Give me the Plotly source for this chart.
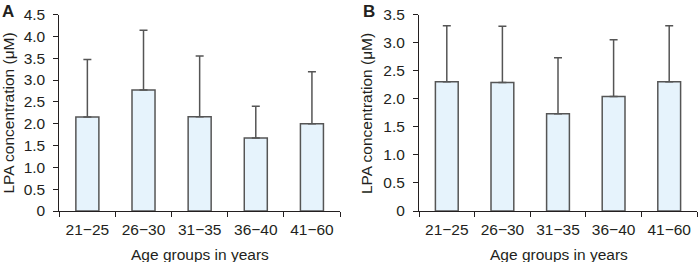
import plotly.graph_objects as go

categories = ["21−25", "26−30", "31−35", "36−40", "41−60"]
means_a = [2.15, 2.77, 2.16, 1.67, 2.00]
upper_a = [3.47, 4.14, 3.55, 2.40, 3.19]
means_b = [2.30, 2.29, 1.73, 2.04, 2.30]
upper_b = [3.30, 3.29, 2.73, 3.05, 3.30]
yticks_a = [0, 0.5, 1.0, 1.5, 2.0, 2.5, 3.0, 3.5, 4.0, 4.5]
yticks_b = [0, 0.5, 1.0, 1.5, 2.0, 2.5, 3.0, 3.5]
x_title = "Age groups in years"
y_title = "LPA concentration (μM)"

FONT = "Liberation Sans, Arial, sans-serif"
TXT = "#231f20"
EDGE = "#555555"
FILL = "#e6f3fc"
FS = 15.5

def lbl(v):
    return "0" if v == 0 else f"{v:.1f}"

fig = go.Figure()
for means, upper, xa, ya in [(means_a, upper_a, "x", "y"), (means_b, upper_b, "x2", "y2")]:
    fig.add_trace(go.Bar(
        x=categories, y=means, xaxis=xa, yaxis=ya,
        marker=dict(color=FILL, line=dict(color=EDGE, width=1.5)),
        error_y=dict(type="data", symmetric=False,
                     array=[u - m for u, m in zip(upper, means)],
                     arrayminus=[0] * len(means),
                     color=EDGE, thickness=1.5, width=4),
        showlegend=False,
    ))

H = 262.0
W = 698.0
ydom = [1 - 211 / H, 1 - 14.5 / H]
common_x = dict(type="category", showline=True, linecolor=TXT, linewidth=1,
                ticks="outside", tickson="boundaries", ticklen=5, tickcolor=TXT,
                showgrid=False, automargin=False, ticklabelstandoff=4,
                ticklabeloverflow="allow",
                tickfont=dict(family=FONT, size=FS, color=TXT))
common_y = dict(showline=True, linecolor=TXT, linewidth=1, ticks="outside", ticklen=5,
                tickcolor=TXT, showgrid=False, zeroline=False, automargin=False,
                ticklabelstandoff=5,
                tickfont=dict(family=FONT, size=FS, color=TXT))

tfont = dict(family=FONT, size=FS, color=TXT)
fig.update_layout(
    width=698, height=262,
    margin=dict(l=0, r=0, t=0, b=0, pad=0),
    paper_bgcolor="white", plot_bgcolor="white",
    bargap=0.59,
    xaxis=dict(domain=[59.3 / W, 340 / W], anchor="y", **common_x),
    yaxis=dict(domain=ydom, anchor="x", range=[0, 4.5], tickvals=yticks_a,
               ticktext=[lbl(v) for v in yticks_a], **common_y),
    xaxis2=dict(domain=[419 / W, 697 / W], anchor="y2", **common_x),
    yaxis2=dict(domain=ydom, anchor="x2", range=[0, 3.5], tickvals=yticks_b,
                ticktext=[lbl(v) for v in yticks_b], **common_y),
    annotations=[
        dict(text="<b>A</b>", x=0, y=1, xref="paper", yref="paper", xanchor="left", yanchor="top",
             showarrow=False, font=dict(family=FONT, size=17, color=TXT), xshift=0, yshift=0),
        dict(text="<b>B</b>", x=361 / W, y=1, xref="paper", yref="paper", xanchor="left", yanchor="top",
             showarrow=False, font=dict(family=FONT, size=17, color=TXT), yshift=0),
        dict(text=x_title, x=199.5 / W, y=1 - 254 / H, xref="paper", yref="paper",
             xanchor="center", yanchor="middle", showarrow=False, font=tfont),
        dict(text=x_title, x=558.5 / W, y=1 - 254 / H, xref="paper", yref="paper",
             xanchor="center", yanchor="middle", showarrow=False, font=tfont),
        dict(text=y_title, x=7.5 / W, y=1 - 113 / H, xref="paper", yref="paper", textangle=-90,
             xanchor="center", yanchor="middle", showarrow=False, font=tfont),
        dict(text=y_title, x=366 / W, y=1 - 113 / H, xref="paper", yref="paper", textangle=-90,
             xanchor="center", yanchor="middle", showarrow=False, font=tfont),
    ],
)

fig.write_html("out.html", config={"displayModeBar": False},
               post_script="document.body.style.margin='0';")
